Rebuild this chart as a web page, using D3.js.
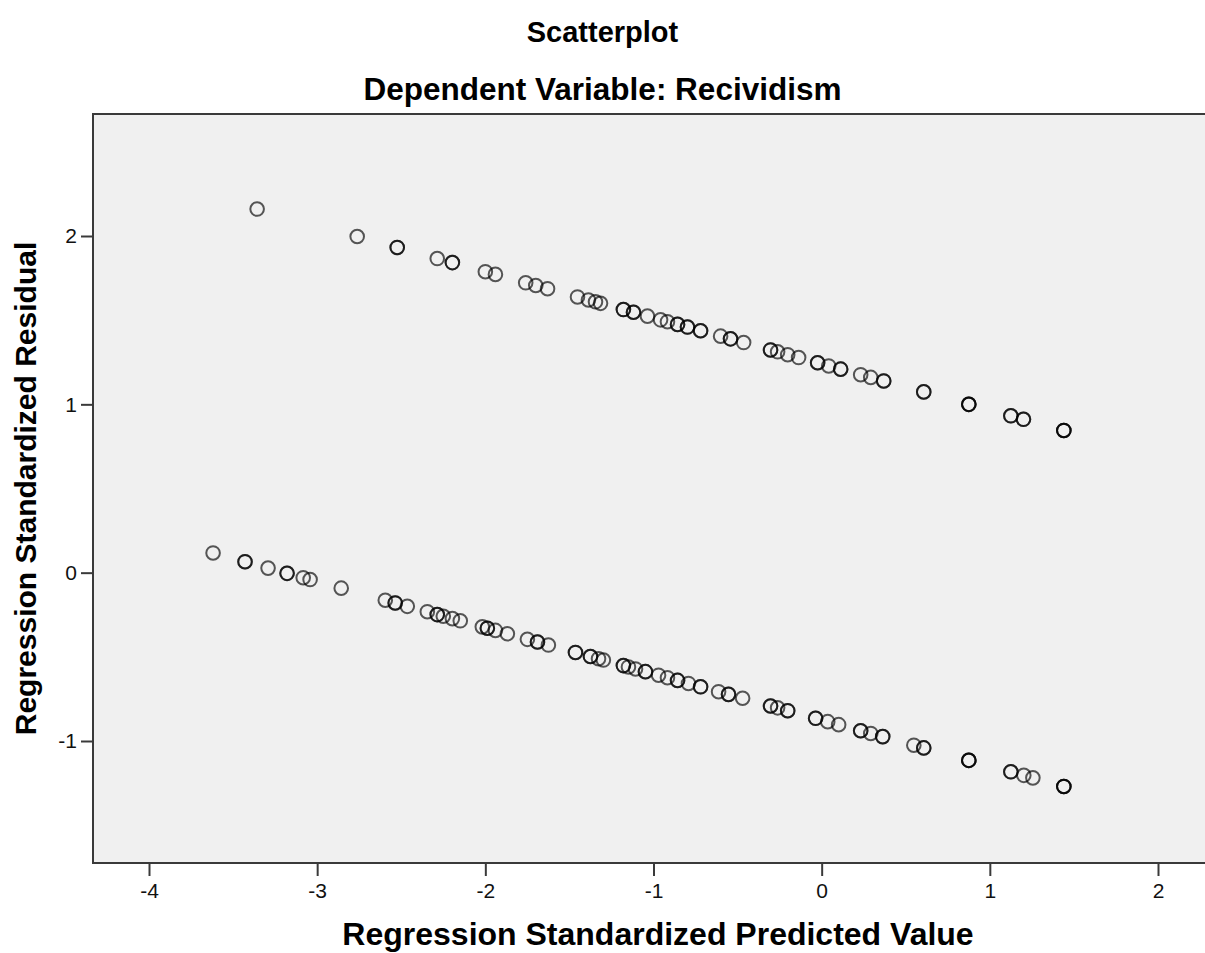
<!DOCTYPE html>
<html>
<head>
<meta charset="utf-8">
<script src="https://cdn.jsdelivr.net/npm/d3@7"></script>
<style>
  body { margin: 0; background: #fff; }
  text { font-family: "Liberation Sans", Arial, sans-serif; }
</style>
</head>
<body>
<div class="scatter-plot"></div>
<script>
// residual band above the fit (predicted, residual) - repeated pairs are stacked points
const upperBand = [
  [-3.357, 2.160], [-2.762, 1.997], [-2.524, 1.932], [-2.524, 1.932], [-2.286, 1.866],
  [-2.196, 1.842], [-2.196, 1.842], [-2.0, 1.788], [-1.94, 1.772], [-1.76, 1.722],
  [-1.70, 1.706], [-1.63, 1.687], [-1.452, 1.638], [-1.387, 1.620], [-1.345, 1.609],
  [-1.315, 1.600], [-1.179, 1.563], [-1.179, 1.563], [-1.119, 1.547], [-1.119, 1.547],
  [-1.036, 1.524], [-0.958, 1.502], [-0.917, 1.491], [-0.857, 1.475], [-0.857, 1.475],
  [-0.798, 1.459], [-0.798, 1.459], [-0.72, 1.437], [-0.72, 1.437], [-0.601, 1.405],
  [-0.542, 1.389], [-0.542, 1.389], [-0.464, 1.367], [-0.304, 1.323], [-0.304, 1.323],
  [-0.262, 1.312], [-0.202, 1.295], [-0.137, 1.278], [-0.024, 1.247], [-0.024, 1.247],
  [0.042, 1.228], [0.113, 1.209], [0.113, 1.209], [0.232, 1.176], [0.292, 1.160],
  [0.369, 1.139], [0.369, 1.139], [0.607, 1.074], [0.607, 1.074], [0.875, 1.000],
  [0.875, 1.000], [0.875, 1.000], [1.125, 0.932], [1.125, 0.932], [1.20, 0.911],
  [1.20, 0.911], [1.44, 0.845], [1.44, 0.845], [1.44, 0.845]
];

// residual band below the fit
const lowerBand = [
  [-3.619, 0.117], [-3.429, 0.065], [-3.429, 0.065], [-3.292, 0.027], [-3.179, -0.004],
  [-3.179, -0.004], [-3.083, -0.030], [-3.042, -0.041], [-2.857, -0.092], [-2.595, -0.164],
  [-2.536, -0.180], [-2.536, -0.180], [-2.464, -0.200], [-2.345, -0.232], [-2.286, -0.249],
  [-2.286, -0.249], [-2.25, -0.259], [-2.196, -0.273], [-2.149, -0.286], [-2.018, -0.322],
  [-1.988, -0.330], [-1.988, -0.330], [-1.94, -0.343], [-1.869, -0.363], [-1.75, -0.396],
  [-1.69, -0.412], [-1.69, -0.412], [-1.625, -0.430], [-1.464, -0.474], [-1.464, -0.474],
  [-1.375, -0.498], [-1.375, -0.498], [-1.327, -0.511], [-1.298, -0.519], [-1.179, -0.552],
  [-1.179, -0.552], [-1.149, -0.560], [-1.107, -0.572], [-1.048, -0.588], [-1.048, -0.588],
  [-0.970, -0.609], [-0.917, -0.624], [-0.857, -0.640], [-0.857, -0.640], [-0.792, -0.658],
  [-0.720, -0.678], [-0.720, -0.678], [-0.613, -0.707], [-0.554, -0.723], [-0.554, -0.723],
  [-0.470, -0.746], [-0.304, -0.792], [-0.304, -0.792], [-0.262, -0.803], [-0.202, -0.820],
  [-0.202, -0.820], [-0.036, -0.865], [-0.036, -0.865], [0.036, -0.885], [0.101, -0.903],
  [0.232, -0.939], [0.232, -0.939], [0.292, -0.955], [0.363, -0.974], [0.363, -0.974],
  [0.548, -1.025], [0.607, -1.041], [0.607, -1.041], [0.875, -1.115], [0.875, -1.115],
  [0.875, -1.115], [1.125, -1.183], [1.125, -1.183], [1.202, -1.204], [1.256, -1.219],
  [1.44, -1.270], [1.44, -1.270], [1.44, -1.270]
];

const xTicks = [-4, -3, -2, -1, 0, 1, 2];
const yTicks = [-1, 0, 1, 2];

const titleText = 'Scatterplot';
const subtitleText = 'Dependent Variable: Recividism';
const xTitle = 'Regression Standardized Predicted Value';
const yTitle = 'Regression Standardized Residual';

const width = 1205;
const height = 953;
const plot = {left: 93, top: 114, right: 1230, bottom: 863};

const x = d3.scaleLinear().domain([-4, 2]).range([149, 1158]);
const y = d3.scaleLinear().domain([-1, 2]).range([741, 236]);

const svg = d3.select('.scatter-plot')
  .append('svg')
  .attr('width', width)
  .attr('height', height);

svg.append('rect')
  .attr('x', plot.left)
  .attr('y', plot.top)
  .attr('width', plot.right - plot.left)
  .attr('height', plot.bottom - plot.top)
  .attr('fill', '#f0f0f0')
  .attr('stroke', '#3a3a3a')
  .attr('stroke-width', 2);

// axes
const xAxis = svg.append('g')
  .attr('transform', `translate(0,${plot.bottom})`)
  .call(d3.axisBottom(x).tickValues(xTicks).tickSize(13).tickPadding(7).tickFormat(d3.format('d')));
const yAxis = svg.append('g')
  .attr('transform', `translate(${plot.left},0)`)
  .call(d3.axisLeft(y).tickValues(yTicks).tickSize(12).tickPadding(4).tickFormat(d3.format('d')));

[xAxis, yAxis].forEach(ax => {
  ax.select('.domain').remove();
  ax.selectAll('line').attr('stroke', '#3a3a3a').attr('stroke-width', 2);
  ax.selectAll('text')
    .attr('font-size', 21)
    .attr('fill', '#111')
    .style('font-family', '"Liberation Sans", Arial, sans-serif')
    .text(d => d < 0 ? '-' + Math.abs(d) : d);
});

// points
const pts = svg.append('g');
[upperBand, lowerBand].forEach(band => {
  pts.selectAll(null)
    .data(band)
    .enter()
    .append('circle')
    .attr('cx', d => x(d[0]))
    .attr('cy', d => y(d[1]))
    .attr('r', 6.8)
    .attr('fill', 'none')
    .attr('stroke', '#000')
    .attr('stroke-opacity', 0.65)
    .attr('stroke-width', 2);
});

// titles
svg.append('text')
  .text(titleText)
  .attr('x', width / 2)
  .attr('y', 42)
  .attr('text-anchor', 'middle')
  .attr('font-size', 29)
  .attr('font-weight', 'bold');

svg.append('text')
  .text(subtitleText)
  .attr('x', width / 2)
  .attr('y', 100)
  .attr('text-anchor', 'middle')
  .attr('font-size', 31.5)
  .attr('font-weight', 'bold');

svg.append('text')
  .text(xTitle)
  .attr('x', 658)
  .attr('y', 945)
  .attr('text-anchor', 'middle')
  .attr('font-size', 32)
  .attr('font-weight', 'bold');

svg.append('text')
  .text(yTitle)
  .attr('transform', `translate(36,${(plot.top + plot.bottom) / 2}) rotate(-90)`)
  .attr('text-anchor', 'middle')
  .attr('font-size', 30)
  .attr('font-weight', 'bold');
</script>
</body>
</html>
